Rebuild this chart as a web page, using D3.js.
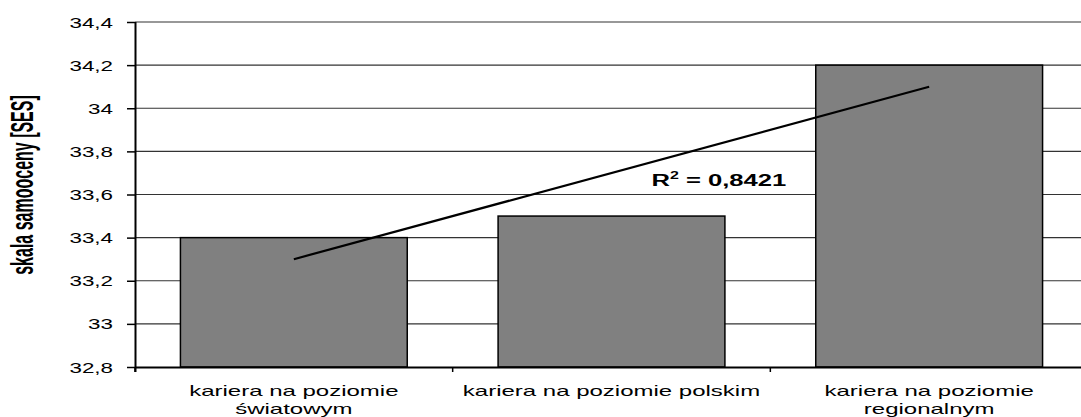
<!DOCTYPE html>
<html>
<head>
<meta charset="utf-8">
<script src="https://cdn.jsdelivr.net/npm/d3@7"></script>
<style>
  body { margin: 0; background: #fff; }
  text { font-family: "Liberation Sans", Arial, sans-serif; fill: #000; }
</style>
</head>
<body>
<svg class="chart" width="1081" height="417"></svg>
<script>
// data
var categories = ["kariera na poziomie światowym", "kariera na poziomie polskim", "kariera na poziomie regionalnym"];
var values = [33.4, 33.5, 34.2];
var yTicks = [32.8, 33, 33.2, 33.4, 33.6, 33.8, 34, 34.2, 34.4];
var yLabel = "skala samooceny [SES]";

// the original picture is stretched sideways, so text is too
var sx = 1.6;

var svg = d3.select(".chart"),
  margin = { top: 22, right: -7, bottom: 50, left: 135 },
  width = +svg.attr("width") - margin.left - margin.right,
  height = +svg.attr("height") - margin.top - margin.bottom,
  g = svg.append("g").attr("transform", "translate(" + margin.left + "," + margin.top + ")");

var x = d3.scaleBand().domain(categories).range([0, width]).paddingInner(0.286).paddingOuter(0.143);
var y = d3.scaleLinear().domain([32.8, 34.4]).range([height, 0]);
var fmt = function(d) { return String(d).replace(".", ","); };

// gridlines
g.append("g")
  .selectAll("line")
  .data(yTicks.slice(1))
  .enter()
  .append("line")
  .attr("x1", 0)
  .attr("x2", width)
  .attr("y1", function(d) { return y(d); })
  .attr("y2", function(d) { return y(d); })
  .attr("stroke", "#333")
  .attr("stroke-width", 1.2);

// bars
g.append("g")
  .selectAll("rect")
  .data(values)
  .enter()
  .append("rect")
  .attr("x", function(d, i) { return x(categories[i]); })
  .attr("y", function(d) { return y(d); })
  .attr("width", x.bandwidth())
  .attr("height", function(d) { return height - y(d); })
  .attr("fill", "#808080")
  .attr("stroke", "#000")
  .attr("stroke-width", 1.5);

// y axis
var yAxis = g.append("g").call(d3.axisLeft(y).tickValues(yTicks).tickFormat(fmt).tickSize(8).tickPadding(14));
yAxis.select(".domain").attr("stroke", "#000").attr("stroke-width", 2).attr("d", "M0.5,0V" + (height + 5));
yAxis.selectAll(".tick line").attr("stroke", "#000").attr("stroke-width", 1.5);
yAxis.selectAll(".tick text")
  .attr("font-size", 14)
  .attr("font-family", "Liberation Sans, Arial, sans-serif")
  .attr("fill", "#000")
  .attr("x", null)
  .attr("dy", null)
  .attr("text-anchor", "end")
  .attr("transform", "translate(-22,5) scale(" + sx + ",1)");

// x axis line and boundary ticks
g.append("line")
  .attr("x1", 0).attr("x2", width)
  .attr("y1", height + 0.5).attr("y2", height + 0.5)
  .attr("stroke", "#000").attr("stroke-width", 2);
var half = (x.step() - x.bandwidth()) / 2;
g.append("g")
  .selectAll("line")
  .data(categories)
  .enter()
  .append("line")
  .attr("x1", function(d) { return x(d) - half; })
  .attr("x2", function(d) { return x(d) - half; })
  .attr("y1", height)
  .attr("y2", height + 5)
  .attr("stroke", "#000")
  .attr("stroke-width", 1.5);

// category labels, wrapped to the band width
var labels = g.append("g")
  .selectAll("text")
  .data(categories)
  .enter()
  .append("text")
  .attr("font-size", 15)
  .attr("text-anchor", "middle")
  .attr("transform", function(d) {
    return "translate(" + (x(d) + x.bandwidth() / 2) + "," + (height + 29) + ") scale(" + sx + ",1)";
  });
labels.each(function(d) {
  var t = d3.select(this), words = d.split(" "), lines = [];
  t.text(d);
  if (this.getComputedTextLength() * sx > x.step()) {
    lines = [words.slice(0, words.length - 1).join(" "), words[words.length - 1]];
  } else {
    lines = [d];
  }
  t.text(null);
  lines.forEach(function(l, i) {
    t.append("tspan").attr("x", 0).attr("dy", i ? 18 : 0).text(l);
  });
});

// y label
svg.append("text")
  .attr("transform", "translate(33,185) scale(1.95,1) rotate(-90)")
  .attr("text-anchor", "middle")
  .attr("font-size", 16)
  .attr("font-weight", "bold")
  .text(yLabel);

// linear trend line
var xs = values.map(function(d, i) { return i + 1; });
var mx = d3.mean(xs), my = d3.mean(values);
var sxy = d3.sum(xs, function(v, i) { return (v - mx) * (values[i] - my); });
var sxx = d3.sum(xs, function(v) { return (v - mx) * (v - mx); });
var slope = sxy / sxx, icpt = my - slope * mx;
var ssTot = d3.sum(values, function(v) { return (v - my) * (v - my); });
var r2 = (slope * slope * sxx) / ssTot;

var trend = [categories[0], categories[categories.length - 1]].map(function(c) {
  var k = categories.indexOf(c) + 1;
  return { c: c, v: icpt + slope * k };
});
g.append("path")
  .datum(trend)
  .attr("fill", "none")
  .attr("stroke", "#000")
  .attr("stroke-width", 2.2)
  .attr("d", d3.line()
    .x(function(d) { return x(d.c) + x.bandwidth() / 2; })
    .y(function(d) { return y(d.v); }));

// R^2 label
var r2Text = g.append("text")
  .attr("font-size", 16)
  .attr("font-weight", "bold")
  .attr("transform", "translate(" + (x(categories[1]) + x.bandwidth() / 2 + 40) + "," + y(33.64) + ") scale(" + sx + ",1)");
r2Text.append("tspan").text("R");
r2Text.append("tspan").attr("font-size", 10).attr("dy", -7).text("2");
r2Text.append("tspan").attr("dy", 7).text(" = " + r2.toFixed(4).replace(".", ","));
</script>
</body>
</html>
